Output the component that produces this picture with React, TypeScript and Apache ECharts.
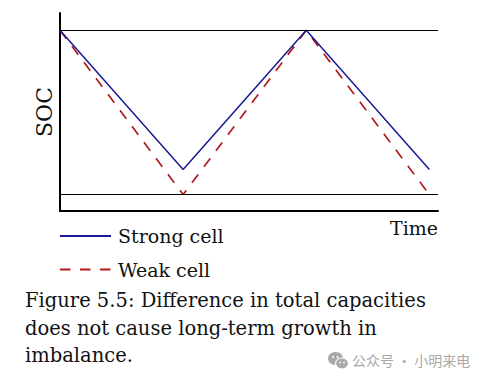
import React, { useEffect, useRef } from "react";
import * as echarts from "echarts";

const strongTime = [0, 3, 6, 9];
const strongSOC = [1, 0.152, 1, 0.152];
const weakTime = [0, 3, 6, 9];
const weakSOC = [1, 0, 1, 0];
const limitLevels = [0, 1];
const seriesNames = ["Strong cell", "Weak cell"];
const captionLines = [
  "Figure 5.5: Difference in total capacities",
  "does not cause long-term growth in",
  "imbalance.",
];
const watermark = "公众号 · 小明来电";

const SERIF = "DejaVu Serif";

export default function App() {
  const ref = useRef<HTMLDivElement>(null);
  useEffect(() => {
    document.body.style.margin = "0";
    const chart = echarts.init(ref.current!, null, { renderer: "svg" });
    const grey = "#a8a8a8";
    chart.setOption({
      animation: false,
      backgroundColor: "#ffffff",
      grid: { left: 60, top: 13, width: 378, height: 198, containLabel: false },
      title: {
        text: captionLines.join("\n"),
        left: 25,
        top: 287,
        padding: 0,
        textStyle: {
          fontFamily: SERIF,
          fontSize: 19.5,
          fontWeight: "normal",
          color: "#111",
          lineHeight: 27.5,
        },
      },
      legend: {
        orient: "vertical",
        left: 59,
        top: 226,
        padding: 0,
        itemWidth: 51,
        itemHeight: 14,
        itemGap: 13.6,
        data: seriesNames,
        itemStyle: { opacity: 0, borderWidth: 0 },
        textStyle: {
          fontFamily: SERIF,
          fontSize: 19,
          color: "#111",
          lineHeight: 20,
          padding: [0, 0, 0, 2],
        },
      },
      xAxis: {
        type: "value",
        min: 0,
        max: 9.21,
        name: "Time",
        nameLocation: "end",
        nameGap: 0,
        nameTextStyle: {
          fontFamily: SERIF,
          fontSize: 19,
          color: "#111",
          align: "right",
          verticalAlign: "top",
          padding: [7, 0, 0, 0],
        },
        axisLine: { show: true, onZero: false, lineStyle: { color: "#000", width: 2 } },
        axisTick: { show: false },
        axisLabel: { show: false },
        splitLine: { show: false },
      },
      yAxis: {
        type: "value",
        min: -0.1,
        max: 1.105,
        name: "SOC",
        nameLocation: "middle",
        nameRotate: 90,
        nameGap: 5,
        nameTextStyle: { fontFamily: SERIF, fontSize: 22, color: "#111" },
        axisLine: { show: true, onZero: false, lineStyle: { color: "#000", width: 2 } },
        axisTick: { show: false },
        axisLabel: { show: false },
        splitLine: { show: false },
      },
      series: [
        {
          name: seriesNames[0],
          type: "line",
          data: strongTime.map((t, i) => [t, strongSOC[i]]),
          symbol: "none",
          lineStyle: { color: "#1a1a96", width: 1.5 },
          itemStyle: { color: "#1a1a96" },
          markLine: {
            silent: true,
            symbol: "none",
            label: { show: false },
            lineStyle: { color: "#000", width: 1.2, type: "solid" },
            data: limitLevels.map((v) => ({ yAxis: v })),
          },
          z: 3,
        },
        {
          name: seriesNames[1],
          type: "line",
          data: weakTime.map((t, i) => [t, weakSOC[i]]),
          symbol: "none",
          lineStyle: { color: "#b31b1b", width: 1.7, type: [10.5, 9.5] },
          itemStyle: { color: "#b31b1b" },
          z: 2,
        },
      ],
      graphic: [
        {
          type: "group",
          left: 328,
          top: 352,
          children: [
            { type: "ellipse", shape: { cx: 7, cy: 7, rx: 7.5, ry: 6.5 }, style: { fill: grey } },
            { type: "ellipse", shape: { cx: 13.5, cy: 12, rx: 6.5, ry: 5.5 }, style: { fill: grey, stroke: "#fff", lineWidth: 1.2 } },
            { type: "circle", shape: { cx: 4.5, cy: 5.5, r: 1 }, style: { fill: "#fff" } },
            { type: "circle", shape: { cx: 9, cy: 5.5, r: 1 }, style: { fill: "#fff" } },
            { type: "circle", shape: { cx: 11.5, cy: 11, r: 0.8 }, style: { fill: "#fff" } },
            { type: "circle", shape: { cx: 15.5, cy: 11, r: 0.8 }, style: { fill: "#fff" } },
          ],
        },
        {
          type: "text",
          left: 352,
          top: 353,
          style: {
            text: watermark,
            font: '14px "Noto Sans CJK SC"',
            fill: grey,
          },
        },
      ],
    });
    return () => chart.dispose();
  }, []);
  return <div ref={ref} style={{ width: 481, height: 382 }} />;
}
